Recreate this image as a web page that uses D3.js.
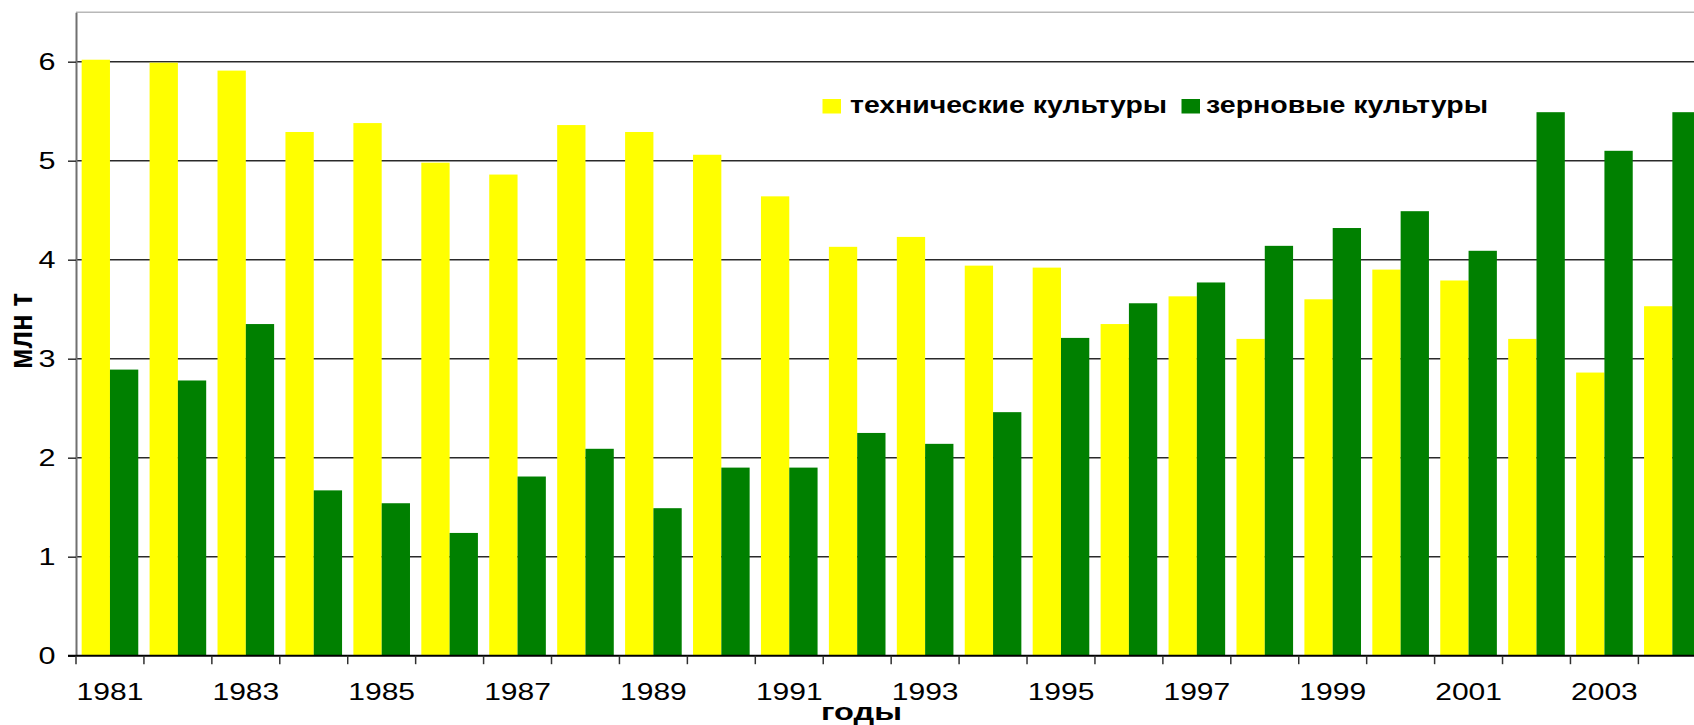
<!DOCTYPE html>
<html>
<head>
<meta charset="utf-8">
<script src="https://cdn.jsdelivr.net/npm/d3@7/dist/d3.min.js"></script>
<style>
  html, body { margin: 0; padding: 0; background: #ffffff; }
  svg { display: block; font-family: "Liberation Sans", Arial, sans-serif; }
</style>
</head>
<body>
<svg id="chart" width="1694" height="725"></svg>
<script>
// ---- data ----
const years = ["1981","1982","1983","1984","1985","1986","1987","1988","1989","1990","1991","1992",
               "1993","1994","1995","1996","1997","1998","1999","2000","2001","2002","2003","2004"];
const seriesNames = ["технические культуры", "зерновые культуры"];
const techValues  = [6.02, 5.99, 5.91, 5.29, 5.38, 4.98, 4.86, 5.36, 5.29, 5.06, 4.64, 4.13,
                     4.23, 3.94, 3.92, 3.35, 3.63, 3.20, 3.60, 3.90, 3.79, 3.20, 2.86, 3.53];
const grainValues = [2.89, 2.78, 3.35, 1.67, 1.54, 1.24, 1.81, 2.09, 1.49, 1.90, 1.90, 2.25,
                     2.14, 2.46, 3.21, 3.56, 3.77, 4.14, 4.32, 4.49, 4.09, 5.49, 5.10, 5.49];
const yTickValues = [0, 1, 2, 3, 4, 5, 6];
const xTickLabels = ["1981","1983","1985","1987","1989","1991","1993","1995","1997","1999","2001","2003"];
const yTitle = "млн т";
const xTitle = "годы";
const colors = ["#FFFF00", "#008000"];

// ---- layout ----
const left = 76, zeroY = 655.7, unit = 99, catW = 67.93;
const svg = d3.select("#chart");
svg.append("rect").attr("width", 1694).attr("height", 725).attr("fill", "#fff");

const x0 = d3.scaleBand().domain(years).range([left, left + years.length * catW]).padding(0);
const x1 = d3.scaleBand().domain(seriesNames).range([0, x0.bandwidth()]).paddingInner(0).paddingOuter(0.2);
const y = d3.scaleLinear().domain([0, 6.5]).range([zeroY, zeroY - 6.5 * unit]);
const right = x0.range()[1];

// top border of plot area
svg.append("line").attr("x1", left).attr("x2", right).attr("y1", y(6.5)).attr("y2", y(6.5))
  .attr("stroke", "#b8b8b8").attr("stroke-width", 1.5);

// gridlines
svg.append("g").selectAll("line").data(yTickValues.filter(d => d > 0)).join("line")
  .attr("x1", left).attr("x2", right).attr("y1", d => y(d)).attr("y2", d => y(d))
  .attr("stroke", "#2a2a2a").attr("stroke-width", 1.6);

// bars
const rows = years.map((yr, i) => ({ year: yr, vals: [techValues[i], grainValues[i]] }));
const groups = svg.append("g").selectAll("g").data(rows).join("g")
  .attr("transform", d => `translate(${x0(d.year)},0)`);
groups.selectAll("rect").data(d => d.vals.map((v, j) => ({ name: seriesNames[j], v, j }))).join("rect")
  .attr("x", d => x1(d.name))
  .attr("width", x1.bandwidth())
  .attr("y", d => y(d.v))
  .attr("height", d => y(0) - y(d.v))
  .attr("fill", d => colors[d.j]);

// y axis
const yAxis = svg.append("g").attr("transform", `translate(${left},0)`)
  .call(d3.axisLeft(y).tickValues(yTickValues).tickFormat(d3.format("d")).tickSize(8).tickSizeOuter(0));
yAxis.select(".domain").attr("stroke", "#707070").attr("stroke-width", 2);
yAxis.selectAll(".tick line").attr("stroke", "#303030").attr("stroke-width", 1.5);
yAxis.selectAll(".tick text")
  .attr("x", -15.5).attr("dy", "0.36em")
  .attr("transform", "scale(1.33,1)")
  .attr("font-size", 23).attr("fill", "#000");

// x axis line + boundary ticks
svg.append("line").attr("x1", left - 8).attr("x2", right).attr("y1", y(0)).attr("y2", y(0))
  .attr("stroke", "#000").attr("stroke-width", 2);
const boundaries = years.map(d => x0(d)).concat([right]);
svg.append("g").selectAll("line").data(boundaries).join("line")
  .attr("x1", d => d).attr("x2", d => d).attr("y1", y(0)).attr("y2", y(0) + 8.5)
  .attr("stroke", "#303030").attr("stroke-width", 1.5);

// x labels through axis generator (centered on categories)
const xAxis = svg.append("g").attr("transform", `translate(0,${y(0)})`)
  .call(d3.axisBottom(x0).tickValues(xTickLabels).tickSize(0).tickSizeOuter(0));
xAxis.select(".domain").remove();
xAxis.selectAll(".tick text")
  .attr("y", 44.3).attr("dy", 0)
  .attr("transform", "scale(1.25,1)")
  .attr("font-size", 24).attr("fill", "#000");

// axis titles
svg.append("text")
  .attr("transform", "translate(31.7,331) scale(1.3,1) rotate(-90)")
  .attr("text-anchor", "middle").attr("font-weight", "bold").attr("font-size", 26)
  .attr("textLength", 76).attr("lengthAdjust", "spacingAndGlyphs")
  .text(yTitle);
svg.append("text")
  .attr("x", 821).attr("y", 719.5)
  .attr("font-weight", "bold").attr("font-size", 24)
  .attr("textLength", 81).attr("lengthAdjust", "spacingAndGlyphs")
  .text(xTitle);

// legend
const legendItems = [
  { name: seriesNames[0], color: colors[0], sx: 822.5, tx: 850, tw: 317 },
  { name: seriesNames[1], color: colors[1], sx: 1181.5, tx: 1206, tw: 282 }
];
const lg = svg.append("g");
lg.selectAll("rect").data(legendItems).join("rect")
  .attr("x", d => d.sx).attr("y", 99).attr("width", 18.5).attr("height", 14.5)
  .attr("fill", d => d.color);
lg.selectAll("text").data(legendItems).join("text")
  .attr("x", d => d.tx).attr("y", 113.3)
  .attr("font-weight", "bold").attr("font-size", 24)
  .attr("textLength", d => d.tw).attr("lengthAdjust", "spacingAndGlyphs")
  .text(d => d.name);
</script>
</body>
</html>
